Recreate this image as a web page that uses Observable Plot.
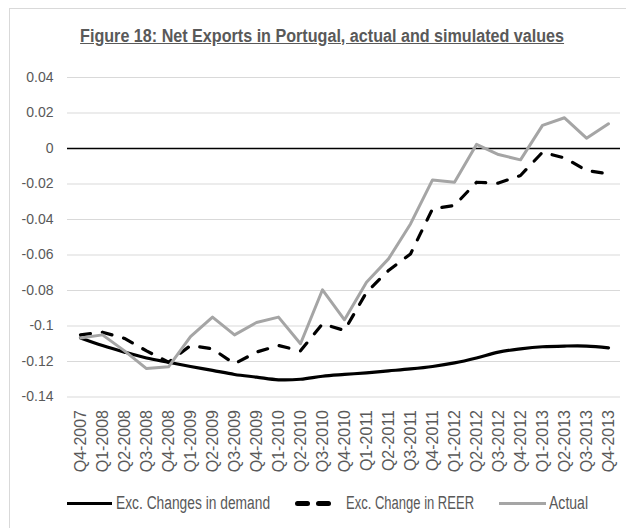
<!DOCTYPE html>
<html><head><meta charset="utf-8">
<script src="https://cdn.jsdelivr.net/npm/d3@7"></script>
<script src="https://cdn.jsdelivr.net/npm/@observablehq/plot@0.6"></script>
<style>
body{margin:0;background:#fff;}
#wrap{position:relative;width:626px;height:528px;overflow:hidden;font-family:"Liberation Sans",sans-serif;}
#frame{position:absolute;left:9px;top:8px;width:640px;height:540px;border:1px solid #d9d9d9;box-sizing:border-box;}
#titlebox{position:absolute;left:9px;width:626px;top:26px;line-height:20px;text-align:center;}
#title{display:inline-block;font-family:"Liberation Sans",sans-serif;font-weight:bold;font-size:18px;color:#595959;text-decoration:underline;white-space:nowrap;transform-origin:50% 50%;}
#chart{position:absolute;left:0;top:0;}
#chart text{fill:#595959;}
.lt{position:absolute;top:492px;height:22px;line-height:22px;font-family:"Liberation Sans",sans-serif;font-size:18px;color:#595959;white-space:nowrap;transform-origin:0 50%;}
.sw{position:absolute;}
</style></head>
<body>
<div id="wrap">
  <div id="frame"></div>
  <div id="chart"></div>
  <div id="titlebox"><span id="title">Figure 18: Net Exports in Portugal, actual and simulated values</span></div>
  <div id="legend"></div>
</div>
<script>
const quarters = ["Q4-2007","Q1-2008","Q2-2008","Q3-2008","Q4-2008","Q1-2009","Q2-2009","Q3-2009","Q4-2009","Q1-2010","Q2-2010","Q3-2010","Q4-2010","Q1-2011","Q2-2011","Q3-2011","Q4-2011","Q1-2012","Q2-2012","Q3-2012","Q4-2012","Q1-2013","Q2-2013","Q3-2013","Q4-2013"];
const demand = [-0.1067,-0.111,-0.1147,-0.118,-0.1204,-0.1228,-0.125,-0.1273,-0.1288,-0.1303,-0.130,-0.1283,-0.1273,-0.1264,-0.1253,-0.1242,-0.1228,-0.1208,-0.118,-0.1147,-0.1129,-0.1117,-0.1113,-0.1113,-0.1123];
const reer = [-0.105,-0.1035,-0.107,-0.114,-0.1204,-0.111,-0.1129,-0.1213,-0.1147,-0.111,-0.114,-0.0988,-0.1025,-0.081,-0.0687,-0.0594,-0.034,-0.0321,-0.019,-0.0195,-0.0152,-0.0021,-0.0053,-0.0124,-0.0143];
const actual = [-0.1067,-0.105,-0.114,-0.124,-0.123,-0.106,-0.095,-0.105,-0.098,-0.095,-0.110,-0.0796,-0.0965,-0.0753,-0.0622,-0.0425,-0.0177,-0.019,0.0023,-0.0034,-0.0064,0.013,0.0173,0.0058,0.0139];
const seriesNames = ["Exc. Changes in demand","Exc. Change in REER","Actual"];
const yTicks = [0.04,0.02,0,-0.02,-0.04,-0.06,-0.08,-0.1,-0.12,-0.14];
const yTickLabels = ["0.04","0.02","0","-0.02","-0.04","-0.06","-0.08","-0.1","-0.12","-0.14"];

const rows = (vals) => quarters.map((q,i)=>({q, v: vals[i]}));
const fmtY = d => yTickLabels[yTicks.findIndex(t => Math.abs(t-d) < 1e-9)];

const chart = Plot.plot({
  width: 626, height: 480,
  marginTop: 77, marginBottom: 83.5, marginLeft: 67, marginRight: 6,
  style: {fontFamily: "Liberation Sans, sans-serif", background: "transparent"},
  x: {type: "point", domain: quarters, padding: 0.5, axis: null, label: null},
  y: {domain: [-0.14, 0.04], axis: null, label: null},
  marks: [
    Plot.ruleY(yTicks.filter(d => d !== 0), {stroke: "#d9d9d9", strokeWidth: 1}),
    Plot.ruleY([0], {stroke: "#000", strokeWidth: 1.6}),
    Plot.lineY(rows(demand), {x: "q", y: "v", stroke: "#000", strokeWidth: 3.2, curve: "catmull-rom"}),
    Plot.lineY(rows(reer), {x: "q", y: "v", stroke: "#000", strokeWidth: 3.2, strokeDasharray: "10,12", strokeLinecap: "round"}),
    Plot.lineY(rows(actual), {x: "q", y: "v", stroke: "#a5a5a5", strokeWidth: 3}),
    Plot.axisY({ticks: yTicks, tickFormat: fmtY, tickSize: 0, tickPadding: 14, fontSize: 14, label: null}),
    Plot.axisX({tickRotate: -90, tickSize: 0, tickPadding: 13, fontSize: 16, label: null})
  ]
});
document.getElementById("chart").appendChild(chart);

const legend = document.getElementById("legend");
const add = (html) => legend.insertAdjacentHTML("beforeend", html);
add(`<div class="sw" style="left:67px;top:501.5px;width:45px;height:3px;background:#000"></div>`);
add(`<div class="lt" data-w="154" style="left:116px">${seriesNames[0]}</div>`);
add(`<div class="sw" style="left:295px;top:500.5px;width:15px;height:5px;border-radius:2.5px;background:#000"></div>`);
add(`<div class="sw" style="left:316px;top:500.5px;width:15px;height:5px;border-radius:2.5px;background:#000"></div>`);
add(`<div class="lt" data-w="128" style="left:346px">${seriesNames[1]}</div>`);
add(`<div class="sw" style="left:499px;top:501.5px;width:47px;height:3px;background:#a5a5a5"></div>`);
add(`<div class="lt" data-w="39" style="left:549px">${seriesNames[2]}</div>`);

// condense text (the original uses a narrow face) by horizontal scaling to the measured widths
document.querySelectorAll(".lt").forEach(el => {
  const w = el.getBoundingClientRect().width;
  el.style.transform = `scaleX(${(+el.dataset.w / w).toFixed(3)})`;
});
const t = document.getElementById("title");
t.style.transform = `scaleX(${(484 / t.getBoundingClientRect().width).toFixed(3)})`;
</script>
</body></html>
